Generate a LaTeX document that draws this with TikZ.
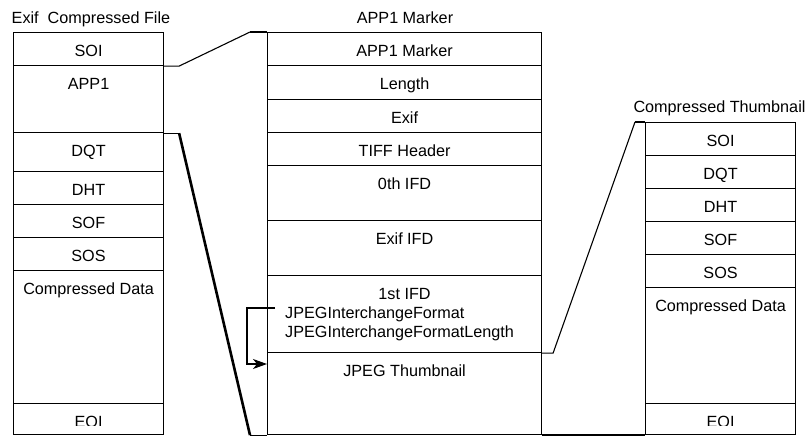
\documentclass[tikz,border=0pt]{standalone}
\usepackage{fontspec}
\setmainfont{Liberation Sans}
\usetikzlibrary{arrows.meta}
\tikzset{
  cell/.style={draw=black, line width=1.1pt, rectangle, inner sep=0pt, anchor=north west},
  txt/.style={anchor=base, inner sep=0pt, font=\fontsize{16.2}{19}\selectfont},
  ttl/.style={anchor=base, inner sep=0pt, font=\fontsize{16.2}{19}\selectfont},
  conn/.style={line width=1.1pt, line join=miter},
  thickconn/.style={line width=2.6pt},
}
\newcommand\mycell[6]{%
  \node[cell, minimum width=#4pt, minimum height=#5pt] (#1) at (#2,#3) {};
  \node[txt] (#1-t) at ([yshift=-24.5pt]#1.north) {#6};
}
\begin{document}
\begin{tikzpicture}[x=1pt,y=-1pt]
\useasboundingbox (0,0) rectangle (812,445);
% titles
\node[ttl, anchor=base west] (tl) at (11.5,23) {Exif\ \ Compressed File};
\node[ttl] (tm) at (405,23) {APP1 Marker};
\node[ttl] (tr) at (719.5,112) {Compressed Thumbnail};
% left column
\mycell{l1}{13}{32}{150}{33}{SOI}
\mycell{l2}{13}{65}{150}{67}{APP1}
\mycell{l3}{13}{132}{150}{39}{DQT}
\mycell{l4}{13}{171}{150}{33}{DHT}
\mycell{l5}{13}{204}{150}{33}{SOF}
\mycell{l6}{13}{237}{150}{33}{SOS}
\mycell{l7}{13}{270}{150}{133}{Compressed Data}
\node[cell, minimum width=150pt, minimum height=31pt] (l8) at (13,403) {};
\begin{scope}
\clip (13,403) rectangle (163,425.3);
\node[txt] (l8-t) at ([yshift=-24.5pt]l8.north) {EOI};
\end{scope}
% middle column
\mycell{m1}{267}{32}{274}{33}{APP1 Marker}
\mycell{m2}{267}{65}{274}{34}{Length}
\mycell{m3}{267}{99}{274}{33}{Exif}
\mycell{m4}{267}{132}{274}{33}{TIFF Header}
\mycell{m5}{267}{165}{274}{55}{0th IFD}
\mycell{m6}{267}{220}{274}{55}{Exif IFD}
\mycell{m7}{267}{275}{274}{77}{1st IFD}
\node[txt, anchor=base west] (m7-a) at (285,318) {JPEGInterchangeFormat};
\node[txt, anchor=base west] (m7-b) at (285,337) {JPEGInterchangeFormatLength};
\mycell{m8}{267}{352}{274}{82}{JPEG Thumbnail}
% right column
\mycell{r1}{645}{122}{150}{33}{SOI}
\mycell{r2}{645}{155}{150}{33}{DQT}
\mycell{r3}{645}{188}{150}{33}{DHT}
\mycell{r4}{645}{221}{150}{33}{SOF}
\mycell{r5}{645}{254}{150}{33}{SOS}
\mycell{r6}{645}{287}{150}{116}{Compressed Data}
\node[cell, minimum width=150pt, minimum height=31pt] (r7) at (645,403) {};
\begin{scope}
\clip (645,403) rectangle (795,425.3);
\node[txt] (r7-t) at ([yshift=-24.5pt]r7.north) {EOI};
\end{scope}
% connector coordinates
\coordinate (k1a) at ([xshift=15pt]l1.south east);
\coordinate (k1b) at ([xshift=-17pt]m1.north west);
\coordinate (k2a) at ([xshift=15pt]l2.south east);
\coordinate (k2b) at ([xshift=-17pt]m8.south west);
\coordinate (k3a) at ([xshift=11pt]m7.south east);
\coordinate (k3b) at ([xshift=-10pt]r1.north west);
\coordinate (ar1) at ([xshift=8pt,yshift=-33pt]m7.north west);
\coordinate (ar2) at ([xshift=-20pt,yshift=-33pt]m7.north west);
\coordinate (ar3) at ([xshift=-20pt,yshift=-12pt]m8.north west);
\coordinate (ar4) at ([yshift=-12pt]m8.north west);
% connectors
\draw[conn] (l1.south east) -- (k1a) -- (k1b);
\draw[thickconn] (k1b) -- (m1.north west);
\draw[conn] (l2.south east) -- (k2a);
\draw[thickconn] (k2a) -- (k2b);
\draw[conn] (k2b) -- (m8.south west);
\draw[conn] (m7.south east) -- (k3a) -- (k3b);
\draw[thickconn] (k3b) -- (r1.north west);
\draw[thickconn] (m8.south east) -- (r7.south west);
\draw[conn, -{Stealth[length=14pt,width=10pt,inset=4pt]}] (ar1) -- (ar2) -- (ar3) -- (ar4);
\end{tikzpicture}
\end{document}
